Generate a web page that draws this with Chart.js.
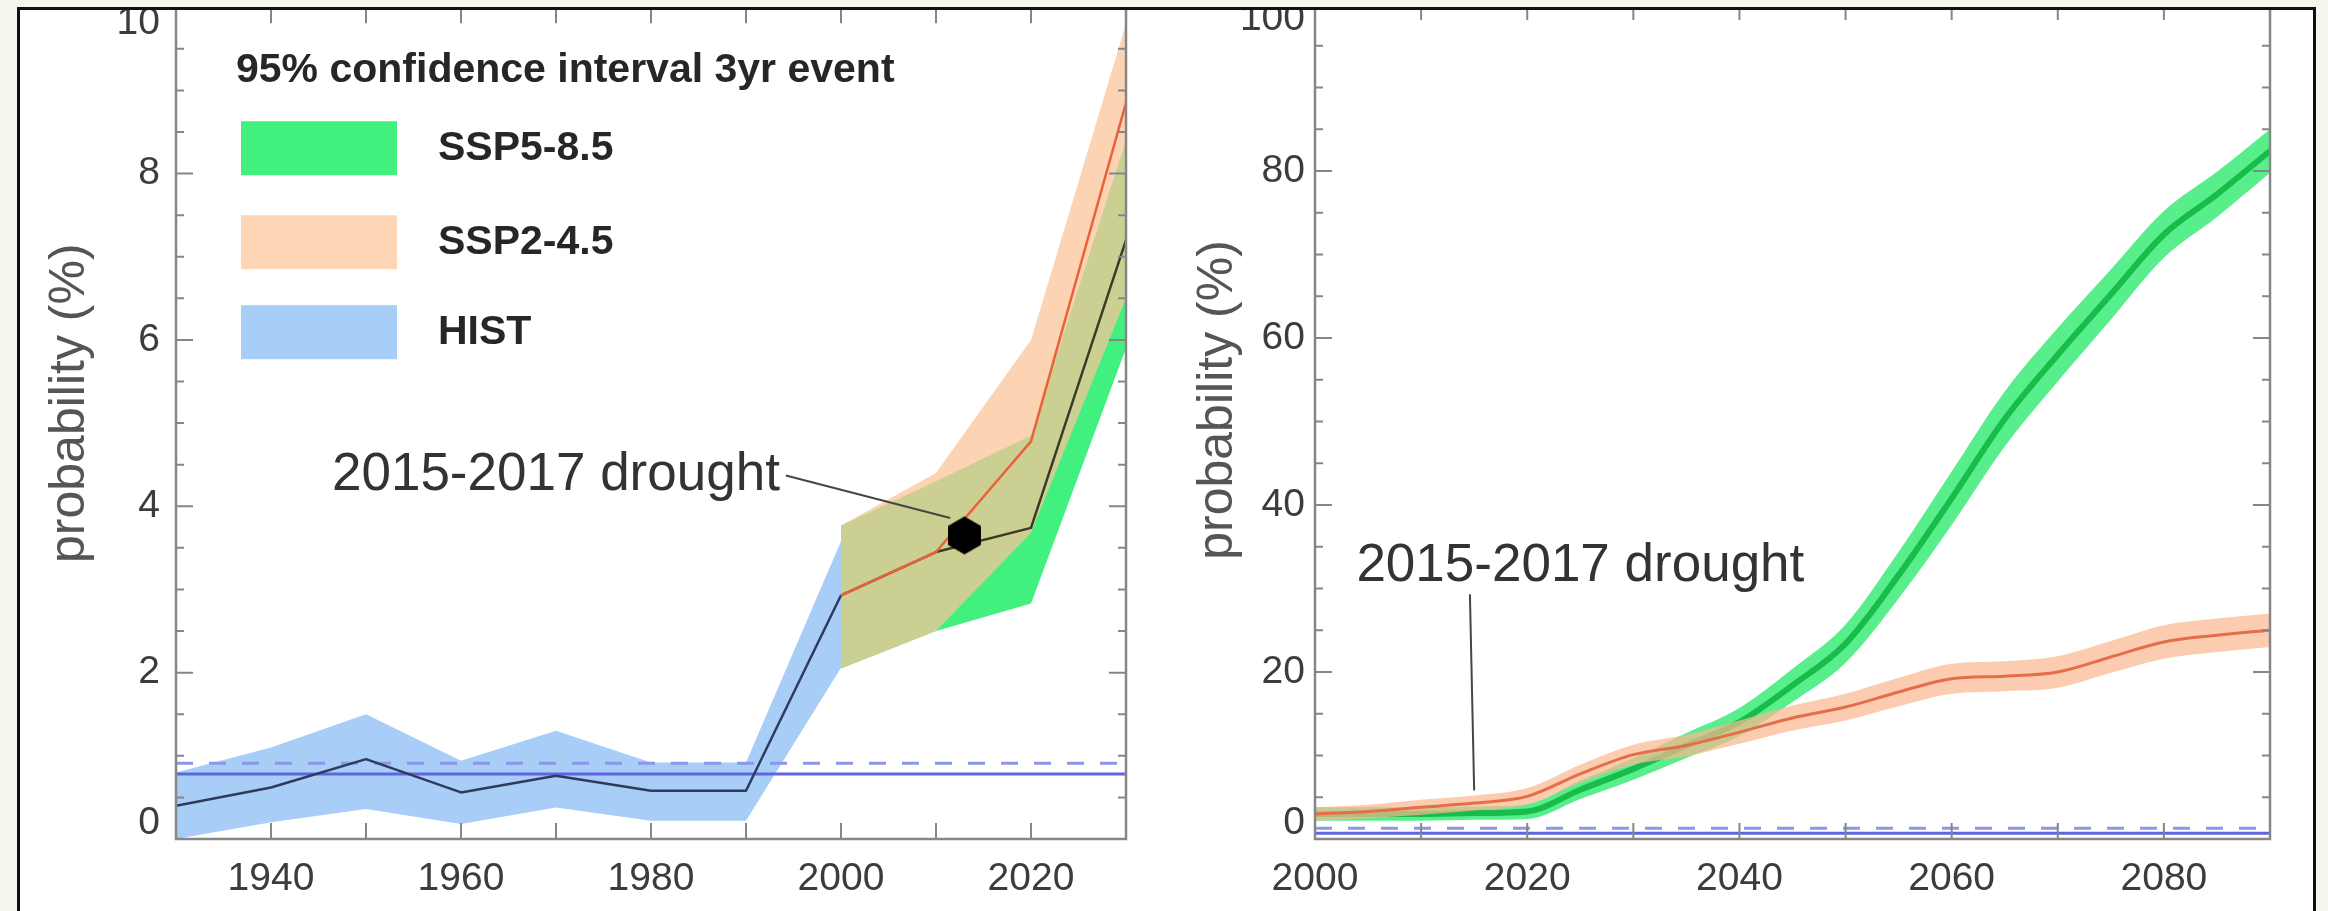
<!DOCTYPE html>
<html>
<head>
<meta charset="utf-8">
<title>Probability of a 3-year drought event</title>
<script src="https://cdn.jsdelivr.net/npm/chart.js@4.4.1/dist/chart.umd.min.js"></script>
<style>
  html, body { margin: 0; padding: 0; background: #ffffff; width: 2328px; height: 911px; overflow: hidden; position: relative; }
  canvas { position: absolute; }
  #histChart { left: 0; top: -40px; }
  #projChart { left: 1180px; top: -40px; }
  .mat { position: absolute; background: #f6f6ef; z-index: 2; }
  #frame { position: absolute; left: 17px; top: 7px; width: 2299px; height: 960px; box-sizing: border-box;
           border: 3px solid #111; border-bottom: none; z-index: 3; }
</style>
</head>
<body>
<canvas id="histChart" width="1180" height="951"></canvas>
<canvas id="projChart" width="1148" height="951"></canvas>
<div class="mat" style="left:0;top:0;width:2328px;height:7px"></div>
<div class="mat" style="left:0;top:0;width:17px;height:911px"></div>
<div class="mat" style="left:2316px;top:0;width:12px;height:911px"></div>
<div id="frame"></div>
<script>
// ---- Decadal windows: probability (%) of a 3-year event ----
const histYears = [1930, 1940, 1950, 1960, 1970, 1980, 1990, 2000];
const histMean  = [0.40, 0.62, 0.96, 0.56, 0.76, 0.58, 0.58, 2.93];
const histHigh  = [0.80, 1.10, 1.50, 0.94, 1.30, 0.92, 0.92, 3.58];
const histLow   = [0.00, 0.20, 0.36, 0.18, 0.38, 0.22, 0.22, 2.06];

const scenYears  = [2000, 2010, 2020, 2030];
const ssp585Mean = [2.93, 3.45, 3.74, 7.20];
const ssp585High = [3.77, 4.30, 4.85, 8.40];
const ssp585Low  = [2.05, 2.50, 2.83, 5.90];
const ssp245Mean = [2.93, 3.45, 4.78, 8.85];
const ssp245High = [3.77, 4.40, 6.00, 9.80];
const ssp245Low  = [2.05, 2.50, 3.68, 6.50];

// baseline (HIST) reference levels
const baseLevel      = [0.78, 0.70];   // solid line: left panel, right panel
const baseLevelUpper = [0.91, 1.30];   // dashed line: left panel, right panel

// observed 2015-2017 drought
const droughtPoint = { x: 2013, y: 3.65 };

// ---- Rolling projection: probability (%) ----
const projYears      = [2000, 2005, 2010, 2015, 2020, 2025, 2030, 2035, 2040, 2045, 2050, 2055, 2060, 2065, 2070, 2075, 2080, 2085, 2090];
const ssp585Proj     = [3.0, 3.0, 3.0, 3.1, 3.3, 5.9, 8.4, 11.2, 14.0, 18.4, 23.4, 31.6, 40.8, 50.3, 58.0, 65.2, 72.4, 77.2, 82.4];
const ssp585ProjHigh = [3.8, 3.8, 3.8, 3.9, 4.2, 7.0, 9.7, 12.7, 15.7, 20.4, 25.7, 34.4, 44.0, 53.6, 61.2, 68.2, 75.2, 79.9, 85.0];
const ssp585ProjLow  = [2.2, 2.2, 2.2, 2.3, 2.4, 4.8, 7.1, 9.7, 12.3, 16.4, 21.1, 28.8, 37.6, 47.0, 54.8, 62.2, 69.6, 74.5, 79.8];
const ssp245Proj     = [3.0, 3.3, 3.8, 4.3, 5.1, 7.8, 10.1, 11.2, 12.8, 14.5, 15.8, 17.6, 19.2, 19.5, 20.0, 21.8, 23.6, 24.4, 25.0];
const ssp245ProjHigh = [3.8, 4.1, 4.7, 5.2, 6.1, 8.9, 11.3, 12.5, 14.2, 16.0, 17.4, 19.3, 21.0, 21.3, 21.9, 23.7, 25.6, 26.4, 27.0];
const ssp245ProjLow  = [2.2, 2.5, 2.9, 3.4, 4.1, 6.7, 8.9, 9.9, 11.4, 13.0, 14.2, 15.9, 17.4, 17.7, 18.1, 19.9, 21.6, 22.4, 23.0];

// ---- Axis ticks ----
const histXTicks = [1940, 1960, 1980, 2000, 2020];
const histYTicks = [0, 2, 4, 6, 8, 10];
const projXTicks = [2000, 2020, 2040, 2060, 2080];
const projYTicks = [0, 20, 40, 60, 80, 100];

// ---- Labels ----
const legendTitle  = '95% confidence interval 3yr event';
const legendLabels = ['SSP5-8.5', 'SSP2-4.5', 'HIST'];
const yTitle = 'probability (%)';
const droughtLabel = '2015-2017 drought';
// leader lines from label to event
const histLeaderX = [1994.2, 2011.5];
const histLeaderY = [4.37, 3.86];
const projLeaderX = [2014.6, 2015.0];
const projLeaderY = [29.3, 5.8];

// ---- Styling ----
const FONT = '"Liberation Sans", Arial, Helvetica, sans-serif';
const AXIS = '#868686';
const C = {
  histBand: 'rgb(168,205,246)',
  histLine: 'rgb(48,58,92)',
  greenBand: 'rgb(66,240,128)',
  peachBand: 'rgba(251,197,153,0.74)',
  peachKey: 'rgb(252,214,182)',
  darkLine: 'rgb(58,58,40)',
  redLine: 'rgb(234,98,58)',
  level: 'rgb(92,102,226)',
  levelDash: 'rgb(140,150,236)',
  projGreenBand: 'rgb(88,238,140)',
  projGreenLine: 'rgb(24,188,74)',
  projPeachBand: 'rgba(250,185,145,0.72)',
  projRedLine: 'rgb(228,110,72)',
  leader: 'rgb(70,70,70)'
};

const pts = (xs, ys) => xs.map((x, i) => ({ x, y: ys[i] }));

function bandSets(xs, hi, lo, color, order, smooth) {
  const common = { borderWidth: 0, pointRadius: 0, order, cubicInterpolationMode: smooth ? 'monotone' : 'default' };
  return [
    Object.assign({ data: pts(xs, hi), backgroundColor: color, fill: '+1' }, common),
    Object.assign({ data: pts(xs, lo), fill: false }, common)
  ];
}

function lineSet(xs, ys, color, width, order, extra) {
  return Object.assign({ data: pts(xs, ys), borderColor: color, borderWidth: width, pointRadius: 0,
                         fill: false, order, borderJoinStyle: 'round' }, extra || {});
}

function hexagon(r, color) {
  const c = document.createElement('canvas');
  const w = Math.ceil(Math.sqrt(3) * r) + 2, h = 2 * r + 2;
  c.width = w; c.height = h;
  const g = c.getContext('2d');
  g.fillStyle = color;
  g.beginPath();
  for (let i = 0; i < 6; i++) {
    const a = Math.PI / 2 + i * Math.PI / 3;
    g.lineTo(w / 2 + r * Math.cos(a), h / 2 + r * Math.sin(a));
  }
  g.closePath();
  g.fill();
  return c;
}

// Inward ticks on all four sides plus the plot box
const boxTicks = {
  id: 'boxTicks',
  afterDatasetsDraw(chart, args, o) {
    const { ctx, chartArea: a } = chart;
    const x = chart.scales.x, y = chart.scales.y;
    ctx.save();
    ctx.strokeStyle = AXIS;
    ctx.lineWidth = 2;
    ctx.beginPath();
    for (let v = x.min; v <= x.max + 1e-6; v += o.xStep) {
      const px = x.getPixelForValue(v);
      ctx.moveTo(px, a.bottom); ctx.lineTo(px, a.bottom - 16);
      ctx.moveTo(px, a.top); ctx.lineTo(px, a.top + 16);
    }
    for (let v = y.min; v <= y.max + 1e-6; v += o.yMinor) {
      const major = Math.abs(v / o.yMajor - Math.round(v / o.yMajor)) < 1e-6;
      const len = major ? 17 : 8;
      const py = y.getPixelForValue(v);
      ctx.moveTo(a.left, py); ctx.lineTo(a.left + len, py);
      ctx.moveTo(a.right, py); ctx.lineTo(a.right - len, py);
    }
    ctx.stroke();
    ctx.lineWidth = 2.5;
    ctx.strokeRect(a.left, a.top, a.right - a.left, a.bottom - a.top);
    ctx.restore();
  }
};

function yLabelCallback(ticks) {
  const lo = ticks[0], hi = ticks[ticks.length - 1];
  return v => v === lo ? [String(v), ''] : (v === hi ? ['', String(v)] : String(v));
}

function makeOptions(cfg) {
  return {
    responsive: false,
    animation: false,
    devicePixelRatio: 1,
    events: [],
    layout: { padding: { left: cfg.padLeft, top: 44, right: cfg.padRight, bottom: 0 } },
    plugins: {
      legend: { display: false },
      tooltip: { enabled: false },
      boxTicks: { xStep: 10, yMinor: cfg.yMinor, yMajor: cfg.yMajor }
    },
    scales: {
      x: {
        type: 'linear', min: cfg.xMin, max: cfg.xMax,
        grid: { display: false, drawTicks: false }, border: { display: false },
        afterBuildTicks: s => { s.ticks = cfg.xTicks.map(v => ({ value: v })); },
        afterFit: s => { s.height = 72; },
        ticks: { padding: 17, color: '#3c3c3c', autoSkip: false, maxRotation: 0,
                 font: { family: FONT, size: 39 }, callback: v => String(v) }
      },
      y: {
        type: 'linear', min: 0, max: cfg.yTicks[cfg.yTicks.length - 1],
        grid: { display: false, drawTicks: false }, border: { display: false },
        afterBuildTicks: s => { s.ticks = cfg.yTicks.map(v => ({ value: v })); },
        afterFit: s => { s.width = 100; },
        ticks: { padding: cfg.yPad, color: '#3c3c3c', autoSkip: false,
                 font: { family: FONT, size: 39, lineHeight: 0.8 }, callback: yLabelCallback(cfg.yTicks) }
      }
    }
  };
}

function drawYTitle(ctx, x, y) {
  ctx.save();
  ctx.translate(x, y);
  ctx.rotate(-Math.PI / 2);
  ctx.font = '50px ' + FONT;
  ctx.fillStyle = '#555555';
  ctx.textAlign = 'center';
  ctx.textBaseline = 'middle';
  ctx.fillText(yTitle, 0, 0);
  ctx.restore();
}

// ---------------- Left panel ----------------
const histDecor = {
  id: 'histDecor',
  afterDraw(chart) {
    const { ctx, chartArea: a } = chart;
    const x = chart.scales.x, y = chart.scales.y;
    drawYTitle(ctx, a.left - 106, a.top + 396);

    // legend
    ctx.save();
    ctx.textBaseline = 'middle';
    ctx.fillStyle = '#262626';
    ctx.font = 'bold 41px ' + FONT;
    ctx.fillText(legendTitle, a.left + 60, a.top + 63);
    const keyColors = [C.greenBand, C.peachKey, C.histBand];
    const keyTops = [114, 208, 298];
    legendLabels.forEach((lab, i) => {
      ctx.fillStyle = keyColors[i];
      ctx.fillRect(a.left + 65, a.top + keyTops[i], 156, 54);
      ctx.fillStyle = '#262626';
      ctx.fillText(lab, a.left + 262, a.top + keyTops[i] + 27);
    });

    // event annotation
    ctx.font = '53px ' + FONT;
    ctx.fillStyle = '#333333';
    ctx.textAlign = 'right';
    ctx.fillText(droughtLabel, x.getPixelForValue(histLeaderX[0]) - 6, y.getPixelForValue(histLeaderY[0]));
    ctx.restore();
  }
};

const histDatasets = [
  ...bandSets(histYears, histHigh, histLow, C.histBand, 12, false),
  ...bandSets(scenYears, ssp585High, ssp585Low, C.greenBand, 11, false),
  ...bandSets(scenYears, ssp245High, ssp245Low, C.peachBand, 10, false),
  lineSet([1930, 2030], [baseLevelUpper[0], baseLevelUpper[0]], C.levelDash, 3, 6, { borderDash: [17, 16] }),
  lineSet([1930, 2030], [baseLevel[0], baseLevel[0]], C.level, 3, 6),
  lineSet(histYears, histMean, C.histLine, 2.5, 4),
  lineSet(scenYears, ssp585Mean, C.darkLine, 2.5, 3),
  lineSet(scenYears, ssp245Mean, C.redLine, 2.5, 2),
  lineSet(histLeaderX, histLeaderY, C.leader, 2, 1),
  { data: [droughtPoint], showLine: false, pointStyle: hexagon(19, '#000000'), pointRadius: 19, order: 0 }
];

new Chart(document.getElementById('histChart'), {
  type: 'line',
  data: { datasets: histDatasets },
  options: makeOptions({ padLeft: 76, padRight: 54, xMin: 1930, xMax: 2030, xTicks: histXTicks,
                         yTicks: histYTicks, yMinor: 0.5, yMajor: 2, yPad: 16 }),
  plugins: [boxTicks, histDecor]
});

// ---------------- Right panel ----------------
const projDecor = {
  id: 'projDecor',
  afterDraw(chart) {
    const { ctx, chartArea: a } = chart;
    const x = chart.scales.x, y = chart.scales.y;
    drawYTitle(ctx, a.left - 97, a.top + 396);
    ctx.save();
    ctx.font = '53px ' + FONT;
    ctx.fillStyle = '#333333';
    ctx.textBaseline = 'middle';
    ctx.textAlign = 'left';
    ctx.fillText(droughtLabel, x.getPixelForValue(2003.9), y.getPixelForValue(32.7));
    ctx.restore();
  }
};

const projDatasets = [
  ...bandSets(projYears, ssp585ProjHigh, ssp585ProjLow, C.projGreenBand, 12, true),
  lineSet(projYears, ssp585Proj, C.projGreenLine, 6, 11, { cubicInterpolationMode: 'monotone' }),
  ...bandSets(projYears, ssp245ProjHigh, ssp245ProjLow, C.projPeachBand, 10, true),
  lineSet(projYears, ssp245Proj, C.projRedLine, 3, 9, { cubicInterpolationMode: 'monotone' }),
  lineSet([2000, 2090], [baseLevelUpper[1], baseLevelUpper[1]], C.levelDash, 3, 6, { borderDash: [17, 16] }),
  lineSet([2000, 2090], [baseLevel[1], baseLevel[1]], C.level, 3, 6),
  lineSet(projLeaderX, projLeaderY, C.leader, 2, 1)
];

new Chart(document.getElementById('projChart'), {
  type: 'line',
  data: { datasets: projDatasets },
  options: makeOptions({ padLeft: 35, padRight: 58, xMin: 2000, xMax: 2090, xTicks: projXTicks,
                         yTicks: projYTicks, yMinor: 5, yMajor: 20, yPad: 10 }),
  plugins: [boxTicks, projDecor]
});
</script>
</body>
</html>
